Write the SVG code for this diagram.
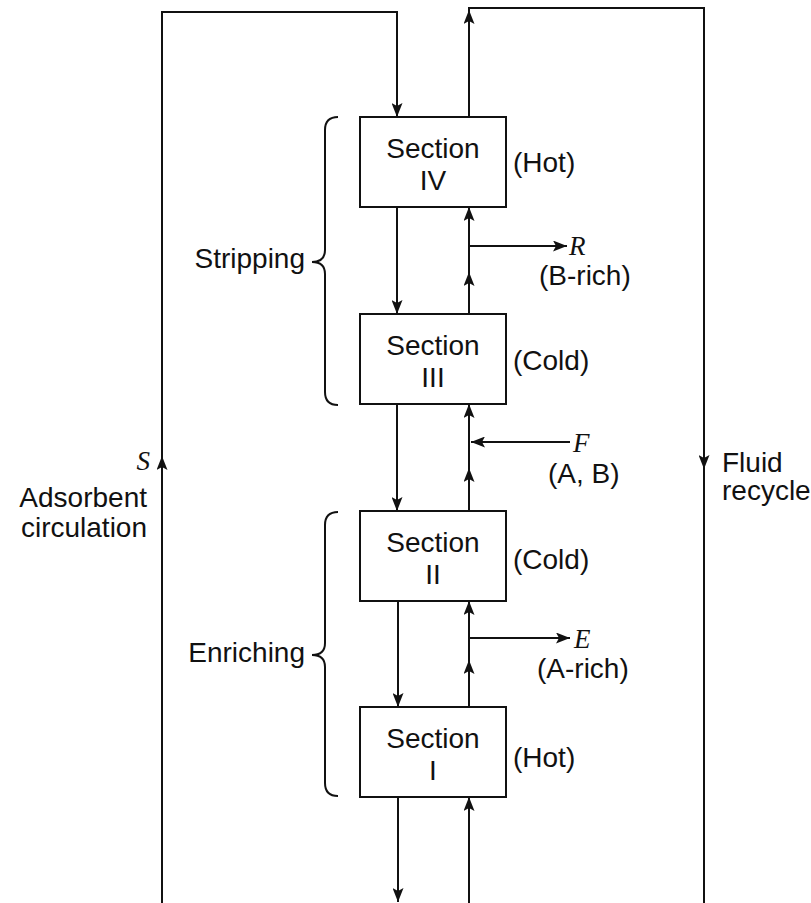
<svg xmlns="http://www.w3.org/2000/svg" width="811" height="903" viewBox="0 0 811 903">
<style>
.ln{fill:none;stroke:#111;stroke-width:2}
.box{fill:#fff;stroke:#111;stroke-width:2}
.t{font-family:"Liberation Sans",Arial,sans-serif;font-size:28px;fill:#111}
.v{font-family:"Liberation Serif","Times New Roman",serif;font-style:italic;font-size:27px;fill:#111}
.arr{fill:none;stroke:#111;stroke-width:2;marker-end:url(#ah)}
</style>
<defs>
<marker id="ah" viewBox="0 0 14 11" refX="14" refY="5.5" markerWidth="14" markerHeight="11" markerUnits="userSpaceOnUse" orient="auto">
<path d="M0,0 L14,5.5 L0,11 L3,5.5 z" fill="#111"/>
</marker>
</defs>
<rect width="811" height="903" fill="#fff"/>
<g id="connectors">
<path class="arr" d="M162,903 V12 H397 V117"/>
<line class="arr" x1="162" y1="475" x2="162" y2="456"/>
<path class="ln" d="M469,117 V8 H704 V903"/>
<line class="arr" x1="469" y1="40" x2="469" y2="10"/>
<line class="arr" x1="704" y1="450" x2="704" y2="469"/>
<line class="arr" x1="469" y1="314" x2="469" y2="207"/>
<line class="arr" x1="469" y1="290" x2="469" y2="272"/>
<line class="arr" x1="469" y1="246" x2="567" y2="246"/>
<line class="arr" x1="469" y1="511" x2="469" y2="404"/>
<line class="arr" x1="469" y1="490" x2="469" y2="468"/>
<line class="arr" x1="570" y1="442" x2="471" y2="442"/>
<line class="arr" x1="469" y1="707" x2="469" y2="601"/>
<line class="arr" x1="469" y1="680" x2="469" y2="660"/>
<line class="arr" x1="469" y1="638" x2="570" y2="638"/>
<line class="arr" x1="469" y1="903" x2="469" y2="797"/>
<line class="arr" x1="397" y1="207" x2="397" y2="314"/>
<line class="arr" x1="397" y1="404" x2="397" y2="511"/>
<line class="arr" x1="398" y1="601" x2="398" y2="707"/>
<line class="arr" x1="398" y1="797" x2="398" y2="902"/>
</g>
<g id="section4">
<rect class="box" x="360" y="117" width="146" height="90"/>
<text class="t" x="433" y="158" text-anchor="middle">Section</text>
<text class="t" x="433" y="190" text-anchor="middle">IV</text>
<text class="t" x="513" y="172">(Hot)</text>
</g>
<g id="section3">
<rect class="box" x="360" y="314" width="146" height="90"/>
<text class="t" x="433" y="355" text-anchor="middle">Section</text>
<text class="t" x="433" y="387" text-anchor="middle">III</text>
<text class="t" x="513" y="370">(Cold)</text>
</g>
<g id="section2">
<rect class="box" x="360" y="511" width="146" height="90"/>
<text class="t" x="433" y="552" text-anchor="middle">Section</text>
<text class="t" x="433" y="584" text-anchor="middle">II</text>
<text class="t" x="513" y="569">(Cold)</text>
</g>
<g id="section1">
<rect class="box" x="360" y="707" width="146" height="90"/>
<text class="t" x="433" y="748" text-anchor="middle">Section</text>
<text class="t" x="433" y="780" text-anchor="middle">I</text>
<text class="t" x="513" y="767">(Hot)</text>
</g>
<g id="stripping">
<path class="ln" d="M338,117 Q325,117 325,130 V250 Q325,262 312,262 Q325,262 325,274 V392 Q325,405 338,405"/>
<text class="t" x="305" y="268" text-anchor="end">Stripping</text>
</g>
<g id="enriching">
<path class="ln" d="M338,512 Q325,512 325,525 V643 Q325,655 312,655 Q325,655 325,667 V783 Q325,796 338,796"/>
<text class="t" x="305" y="662" text-anchor="end">Enriching</text>
</g>
<g id="labels">
<text class="v" x="569" y="255">R</text>
<text class="t" x="539" y="285">(B-rich)</text>
<text class="v" x="573" y="452">F</text>
<text class="t" x="548" y="483">(A, B)</text>
<text class="v" x="574" y="648">E</text>
<text class="t" x="537" y="678">(A-rich)</text>
<text class="v" x="150" y="470" text-anchor="end">S</text>
<text class="t" x="147" y="507" text-anchor="end">Adsorbent</text>
<text class="t" x="147" y="537" text-anchor="end">circulation</text>
<text class="t" x="722" y="472">Fluid</text>
<text class="t" x="722" y="500">recycle</text>
</g>
</svg>
